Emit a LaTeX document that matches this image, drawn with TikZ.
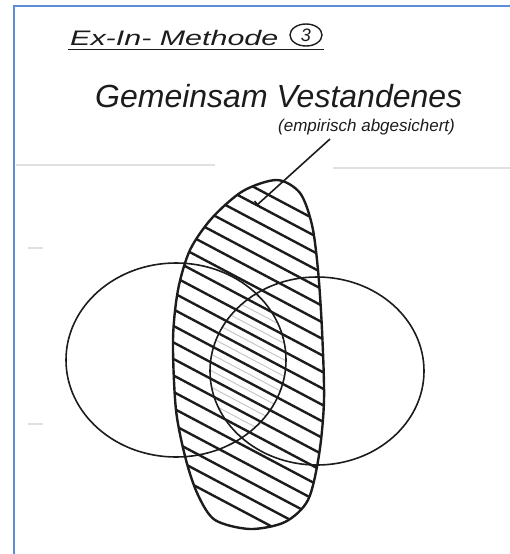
\documentclass[tikz,border=0pt]{standalone}
\usepackage{fontspec}
\setmainfont{Liberation Sans}
\usetikzlibrary{arrows.meta,shapes.geometric}

\definecolor{framebl}{RGB}{91,142,214}
\definecolor{ink}{RGB}{28,28,28}

\tikzset{
  hand/.style={text=ink, inner sep=0pt},
  ring/.style={ink, line width=1.6pt},
  hatch/.style={ink, line width=2.4pt},
  softhatch/.style={black!22, line width=1pt},
  pointer/.style={ink, line width=1.6pt, -{Bar[width=9pt, line width=1.6pt]}},
  faint/.style={black!12, line width=1.5pt}
}

\begin{document}
\begin{tikzpicture}[x=1pt, y=-1pt]
\useasboundingbox (0,0) rectangle (510,554);

% frame
\draw[framebl, line width=2pt] (14,554) -- (14,6) -- (510,6);

% paper marks
\draw[faint] (16,165) -- (215,165);
\draw[faint] (333,168) -- (510,168);
\draw[faint] (28,248) -- (43,248);
\draw[faint] (28,424) -- (43,424);

% heading
\node[hand, anchor=base west, font=\itshape\fontsize{21}{21}\selectfont] (title) at (70,45) {\scalebox{1.45}[1]{Ex-In- Methode}};
\node[hand, ellipse, draw=ink, line width=1.4pt, minimum width=32pt, minimum height=22pt, font=\itshape\fontsize{18}{18}\selectfont] (num) at (306,35) {3};
\draw[ink, line width=0.9pt] (68,49) -- (324,49);

% labels
\node[hand, anchor=base west, font=\itshape\fontsize{32}{32}\selectfont] (head) at (95,107) {Gemeinsam Vestandenes};
\node[hand, anchor=base west, font=\itshape\fontsize{17}{17}\selectfont] (sub) at (278,131) {(empirisch abgesichert)};

% tall oval
\path[save path=\ovalpath] plot[smooth cycle] coordinates {(277,180) (300,193) (312,225) (318,270) (322,330) (324,400) (319,455) (308,500) (285,522) (250,529) (215,520) (198,495) (186,460) (176,410) (173,340) (178,290) (190,250) (212,218) (243,191)};

% hatching
\begin{scope}
  \clip[use path=\ovalpath];
  \foreach \k in {0,...,20}
    \draw[hatch] (150,{132+16.5*\k}) -- ++(200,106);
\end{scope}
\begin{scope}
  \clip (176,360) ellipse [x radius=110, y radius=97];
  \clip (317,371) ellipse [x radius=107, y radius=94];
  \foreach \k in {0,...,20}
    \draw[softhatch] (150,{140.25+16.5*\k}) -- ++(200,106);
\end{scope}

% the two views
\draw[ring] (176,360) ellipse [x radius=110, y radius=97];
\draw[ring] (317,371) ellipse [x radius=107, y radius=94];

\draw[ink, line width=2.4pt, use path=\ovalpath];

% pointer
\coordinate (lead) at (330,139);
\coordinate (tip) at (257,205);
\draw[pointer] (lead) -- (tip);
\end{tikzpicture}
\end{document}
